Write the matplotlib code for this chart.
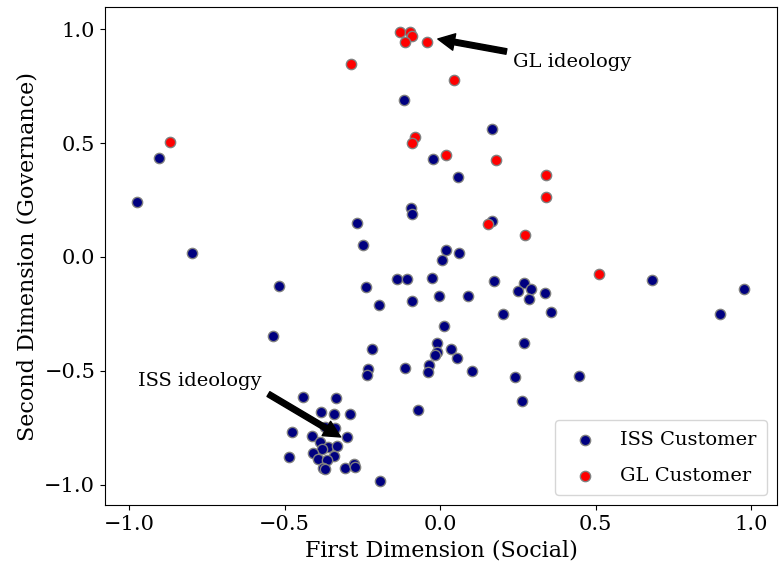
"""ISS vs GL customers on the two ideology dimensions."""
import numpy as np
import matplotlib
matplotlib.use("Agg")
import matplotlib.pyplot as plt

plt.rcParams.update({
    "font.family": ["DejaVu Serif"],
    "font.size": 14,
    "axes.labelsize": 16,
    "xtick.labelsize": 15,
    "ytick.labelsize": 15,
    "legend.fontsize": 14,
})

# ISS customers (social, governance)
iss_x = [-0.974, -0.904, -0.797, -0.518, -0.537, -0.116, -0.023, 0.167, 0.058, -0.093,
         -0.090, -0.267, -0.247, 0.167, 0.019, 0.061, 0.007, -0.139, -0.105, -0.025,
         -0.238, -0.196, -0.089, -0.005, 0.091, 0.174, 0.270, 0.252, 0.293, 0.338,
         0.287, 0.202, 0.356, 0.682, 0.977, 0.900, 0.013, -0.009, 0.034, -0.009,
         -0.016, 0.056, -0.034, -0.038, -0.113, 0.104, -0.070, -0.219, -0.232, -0.235,
         0.270, 0.241, 0.447, 0.264,
         -0.440, -0.334, -0.384, -0.341, -0.289, -0.475, -0.411, -0.370, -0.338, -0.298,
         -0.386, -0.359, -0.330, -0.380, -0.407, -0.340, -0.391, -0.362, -0.485, -0.377,
         -0.370, -0.305, -0.276, -0.273, -0.193]
iss_y = [0.242, 0.435, 0.018, -0.127, -0.347, 0.690, 0.429, 0.563, 0.352, 0.215,
         0.189, 0.149, 0.053, 0.158, 0.031, 0.019, -0.013, -0.097, -0.097, -0.091,
         -0.132, -0.211, -0.192, -0.174, -0.174, -0.108, -0.113, -0.152, -0.142, -0.157,
         -0.185, -0.251, -0.243, -0.101, -0.141, -0.250, -0.302, -0.379, -0.406, -0.416,
         -0.431, -0.443, -0.475, -0.504, -0.489, -0.500, -0.673, -0.404, -0.492, -0.519,
         -0.378, -0.527, -0.523, -0.633,
         -0.614, -0.618, -0.680, -0.691, -0.691, -0.771, -0.785, -0.746, -0.752, -0.793,
         -0.815, -0.834, -0.829, -0.844, -0.863, -0.873, -0.888, -0.892, -0.878, -0.926,
         -0.932, -0.929, -0.910, -0.922, -0.985]

# GL customers
gl_x = [-0.129, -0.096, -0.091, -0.113, -0.043, -0.286, 0.045, -0.080, -0.090, -0.868,
        0.019, 0.180, 0.341, 0.341, 0.154, 0.273, 0.511]
gl_y = [0.989, 0.989, 0.970, 0.945, 0.945, 0.848, 0.778, 0.527, 0.501, 0.505,
        0.448, 0.426, 0.360, 0.264, 0.145, 0.097, -0.075]

fig = plt.figure(figsize=(7.79, 5.75), dpi=100)
ax = fig.add_axes([0.1348, 0.1217, 0.8626, 0.866])

ax.scatter(iss_x, iss_y, s=55, color="#000080", edgecolor="gray", linewidth=1,
           label="ISS Customer")
ax.scatter(gl_x, gl_y, s=55, color="#ff0000", edgecolor="gray", linewidth=1,
           label="GL Customer")

ax.annotate("GL ideology", xy=(-0.02, 0.96), xytext=(0.235, 0.835),
            arrowprops=dict(facecolor="black", shrink=0.05), fontsize=14, zorder=5)
ax.annotate("ISS ideology", xy=(-0.306, -0.802), xytext=(-0.971, -0.567),
            arrowprops=dict(facecolor="black", shrink=0.05), fontsize=14, zorder=5)

ax.set_xlim(-1.077, 1.083)
ax.set_ylim(-1.09, 1.097)
ax.set_xticks([-1.0, -0.5, 0.0, 0.5, 1.0])
ax.set_yticks([-1.0, -0.5, 0.0, 0.5, 1.0])
ax.set_xlabel("First Dimension (Social)")
ax.set_ylabel("Second Dimension (Governance)")
ax.legend(loc="lower right", labelspacing=0.9, borderpad=0.55)

fig.savefig("out.png", dpi=100)
